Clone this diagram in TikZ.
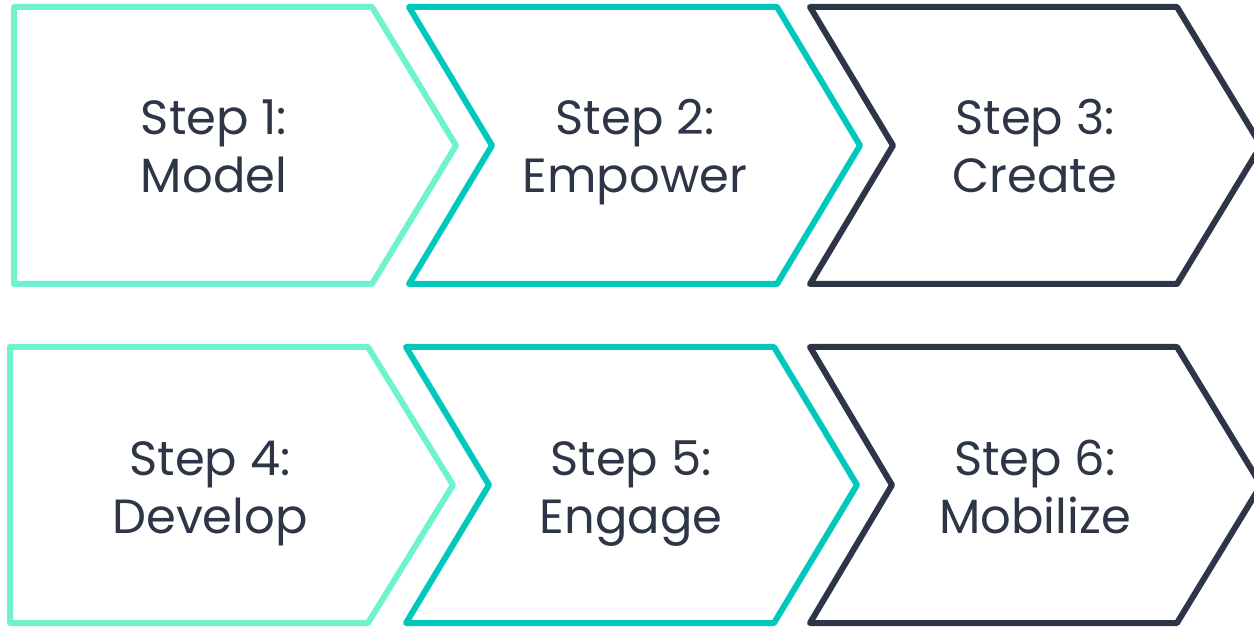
\documentclass[tikz,border=0pt]{standalone}
\usepackage{fontspec}
\setmainfont{Poppins}
\definecolor{cmint}{HTML}{6EF3CE}
\definecolor{cteal}{HTML}{00C8BC}
\definecolor{cnavy}{HTML}{2E3547}
\begin{document}
\begin{tikzpicture}[x=1pt,y=-1pt,
  chev/.style={line width=6pt,line join=round},
  lbl/.style={text=cnavy,align=center,font=\fontsize{48}{58}\selectfont,inner sep=0pt}]
\useasboundingbox (0,0) rectangle (1254,628);
% row 1
\draw[chev,cmint] (14,7) -- (372,7) -- (456,145.5) -- (372,284) -- (14,284) -- cycle;
\draw[chev,cteal] (409,7) -- (777,7) -- (860,145.5) -- (777,284) -- (409,284) -- (492,145.5) -- cycle;
\draw[chev,cnavy] (810,7) -- (1177,7) -- (1261,145.5) -- (1177,284) -- (810,284) -- (893,145.5) -- cycle;
% row 2
\draw[chev,cmint] (10,347) -- (368,347) -- (453,485) -- (368,623) -- (10,623) -- cycle;
\draw[chev,cteal] (406,347) -- (774,347) -- (857,485) -- (774,623) -- (406,623) -- (489,485) -- cycle;
\draw[chev,cnavy] (810,347) -- (1177,347) -- (1261,485) -- (1177,623) -- (810,623) -- (892,485) -- cycle;
% labels
\node[lbl] (s1) at (214,152.4) {Step 1:\strut\\Model\strut};
\node[lbl] (s2) at (635,152.4) {Step 2:\strut\\Empower\strut};
\node[lbl] (s3) at (1035,152.4) {Step 3:\strut\\Create\strut};
\node[lbl] (s4) at (210,492.4) {Step 4:\strut\\Develop\strut};
\node[lbl] (s5) at (631,492.4) {Step 5:\strut\\Engage\strut};
\node[lbl] (s6) at (1035,492.4) {Step 6:\strut\\Mobilize\strut};
\end{tikzpicture}
\end{document}
